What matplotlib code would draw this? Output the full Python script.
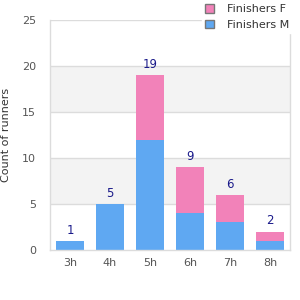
import matplotlib
matplotlib.use("Agg")
import matplotlib.pyplot as plt
from matplotlib.patches import Patch
import numpy as np

categories = ["3h", "4h", "5h", "6h", "7h", "8h"]
finishers_m = [1, 5, 12, 4, 3, 1]
finishers_f = [0, 0, 7, 5, 3, 1]
totals = [m + f for m, f in zip(finishers_m, finishers_f)]
y_ticks = [0, 5, 10, 15, 20, 25]

col_m = "#5fa8f2"
col_f = "#f282b9"
grid_col = "#dcdcdc"
band_col = "#f3f3f3"
text_col = "#555555"
label_col = "#1a1a8a"

fig = plt.figure(figsize=(3, 3), dpi=100)
ax = fig.add_axes([50/300, 50/300, 240/300, 230/300])

x = np.arange(len(categories))
ax.set_xlim(-0.5, len(categories) - 0.5)
ax.set_ylim(0, 25)

# alternating bands
for i, (lo, hi) in enumerate(zip(y_ticks[:-1], y_ticks[1:])):
    if i % 2 == 1:
        ax.axhspan(lo, hi, color=band_col, zorder=0, lw=0)
for t in y_ticks[1:]:
    ax.axhline(t, color=grid_col, lw=1, zorder=0.5)

w = 0.72
ax.bar(x, finishers_m, width=w, color=col_m, zorder=2)
ax.bar(x, finishers_f, width=w, bottom=finishers_m, color=col_f, zorder=2)

for xi, t in zip(x, totals):
    ax.annotate(str(t), (xi, t), xytext=(0, 3), textcoords="offset points",
                ha="center", va="bottom", fontsize=8.5, color=label_col)

ax.set_xticks(x)
ax.set_xticklabels(categories)
ax.set_yticks(y_ticks)
ax.tick_params(length=0, labelsize=8, colors=text_col, pad=6)
ax.tick_params(axis="y", pad=10)
for s in ["left", "right", "bottom"]:
    ax.spines[s].set_color(grid_col)
    ax.spines[s].set_linewidth(1)
ax.spines["top"].set_visible(False)

ax.set_ylabel("Count of runners", fontsize=8, color="#333333", labelpad=8)

handles = [Patch(facecolor=col_f, edgecolor="#777777", label="Finishers F"),
           Patch(facecolor=col_m, edgecolor="#777777", label="Finishers M")]
leg = fig.legend(handles=handles, loc="upper right", bbox_to_anchor=(0.995, 1.015),
                 fontsize=8, frameon=True, fancybox=False, edgecolor="white",
                 handlelength=0.8, handleheight=0.8, labelspacing=0.45,
                 handletextpad=1.2, borderpad=0.3, labelcolor="#333333")
leg.get_frame().set_facecolor("white")
leg.get_frame().set_alpha(1)

fig.savefig("out.png", dpi=100)
